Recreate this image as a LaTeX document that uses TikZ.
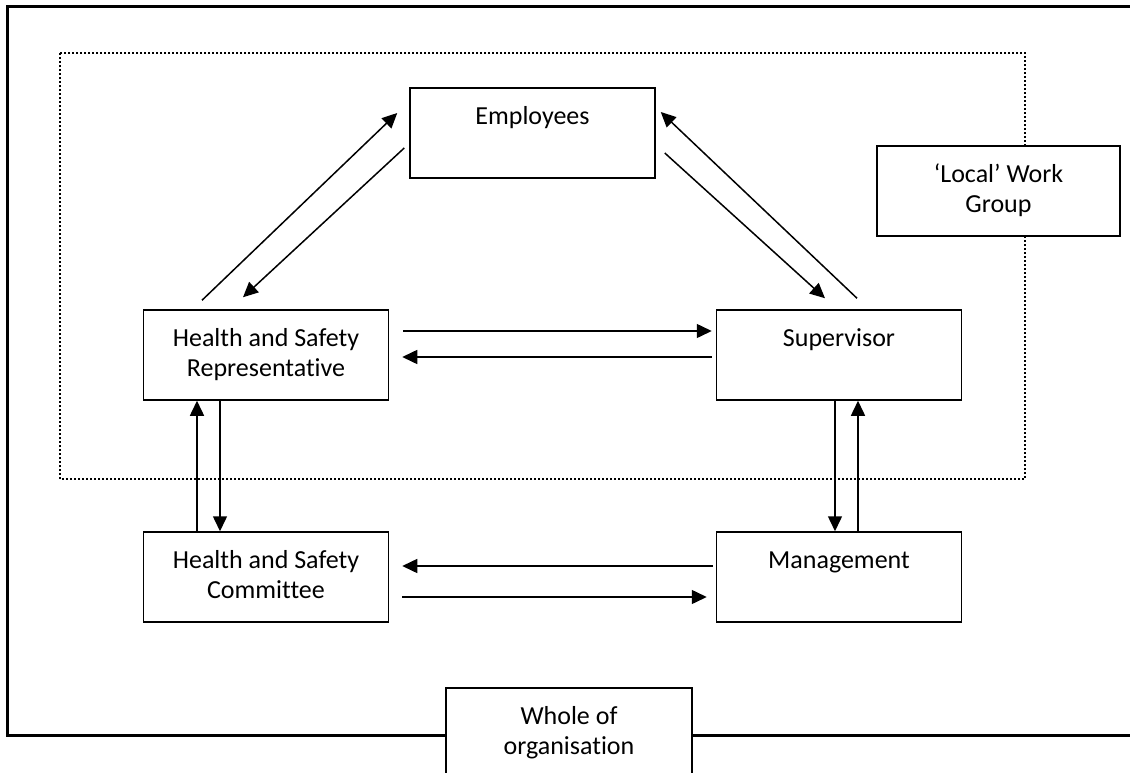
\documentclass[tikz,border=0pt]{standalone}
\usepackage{fontspec}
\setmainfont{Carlito}[RawFeature={-liga;-clig}]
\usetikzlibrary{arrows.meta}
\begin{document}
\begin{tikzpicture}[x=1pt,y=-1pt,
 box/.style={draw, fill=white, line width=1.5pt, minimum width=245pt, minimum height=90pt, inner sep=0pt},
 lbl/.style={anchor=base, inner sep=0pt, align=center, font=\fontsize{26}{30}\selectfont},
 arr/.style={line width=1.5pt, -{Triangle[length=15pt,width=14pt]}},
 frame/.style={line width=3pt},
 group/.style={line width=2pt, dash pattern=on 2pt off 2pt}]
\useasboundingbox (0,0) rectangle (1130,773);
\draw[group] (60,53) rectangle (1025,479);
\node[box] (emp) at (532.5,133) {};
\node[box] (rep) at (266,355) {};
\node[box] (sup) at (839,355) {};
\node[box] (com) at (266,577) {};
\node[box] (man) at (839,577) {};
\node[box, minimum width=243pt] (loc) at (998.5,191) {};
\node[box, minimum width=246pt, minimum height=94pt] (whole) at (569,735) {};
\draw[frame] (1130,7) -- (7,7) -- (7,735) -- (whole.west);
\draw[frame] (whole.east) -- (1130,735);
\node[lbl] (empt) at ([yshift=-37pt]emp.north) {Employees};
\node[lbl] (rept) at ([yshift=-67pt]rep.north) {Health and Safety\\Representative};
\node[lbl] (supt) at ([yshift=-37pt]sup.north) {Supervisor};
\node[lbl] (comt) at ([yshift=-67pt]com.north) {Health and Safety\\Committee};
\node[lbl] (mant) at ([yshift=-37pt]man.north) {Management};
\node[lbl] (loct) at ([yshift=-67pt]loc.north) {‘Local’ Work\\Group};
\node[lbl] (wholet) at ([yshift=-67pt]whole.north) {Whole of\\organisation};
\draw[arr] ([shift={(-64pt,9pt)}]rep.north) -- ([shift={(-12pt,20pt)}]emp.west);
\draw[arr] ([shift={(-5pt,-15pt)}]emp.west) -- ([shift={(-23pt,12pt)}]rep.north);
\draw[arr] ([shift={(9pt,-20pt)}]emp.east) -- ([shift={(-14pt,11pt)}]sup.north);
\draw[arr] ([shift={(18pt,11pt)}]sup.north) -- ([shift={(5pt,21pt)}]emp.east);
\draw[arr] ([shift={(14pt,24pt)}]rep.east) -- ([shift={(-4pt,24pt)}]sup.west);
\draw[arr] ([shift={(-4pt,-2pt)}]sup.west) -- ([shift={(13pt,-2pt)}]rep.east);
\draw[arr] ([xshift=-69pt]com.north) -- ([xshift=-69pt]rep.south);
\draw[arr] ([xshift=-46pt]rep.south) -- ([xshift=-46pt]com.north);
\draw[arr] ([xshift=-4pt]sup.south) -- ([xshift=-4pt]man.north);
\draw[arr] ([xshift=19pt]man.north) -- ([xshift=19pt]sup.south);
\draw[arr] ([shift={(-3pt,11pt)}]man.west) -- ([shift={(13pt,11pt)}]com.east);
\draw[arr] ([shift={(13pt,-20pt)}]com.east) -- ([shift={(-9pt,-20pt)}]man.west);
\end{tikzpicture}
\end{document}
